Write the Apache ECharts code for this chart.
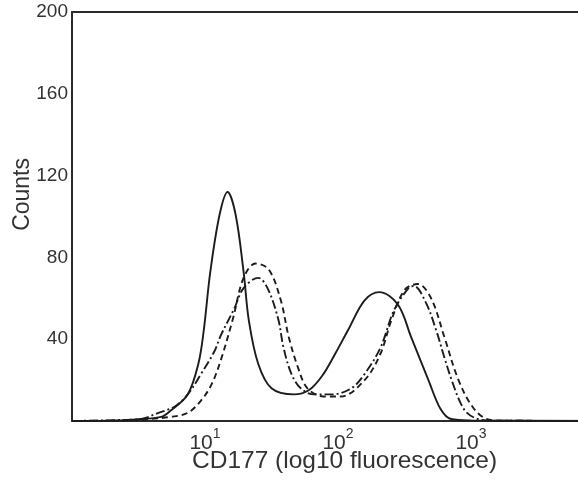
<!DOCTYPE html>
<html>
<head>
<meta charset="utf-8">
<script src="https://cdn.jsdelivr.net/npm/echarts@6/dist/echarts.min.js"></script>
<style>
  html, body { margin: 0; padding: 0; background: #fff; overflow: hidden; }
  #main { width: 620px; height: 483px; }
</style>
</head>
<body>
<div id="main"></div>
<script>
// log10 fluorescence positions and counts
var solidX = [0, 0.37, 0.52, 0.67, 0.74, 0.87, 0.95, 0.99, 1.04, 1.11, 1.17, 1.23, 1.29, 1.33, 1.40, 1.50, 1.67, 1.78, 1.88, 1.98, 2.08, 2.20, 2.31, 2.45, 2.55, 2.68, 2.77, 2.85, 3.00, 4.00]
var solidY = [0, 0.3, 1, 2, 5, 13, 28, 44, 73, 101, 112, 101, 73, 49, 28, 16, 13, 15, 22, 33, 45, 59, 63, 57, 41, 20, 6, 1, 0.3, 0]

var dashX = [0, 0.44, 0.59, 0.74, 0.87, 0.97, 1.05, 1.12, 1.21, 1.29, 1.38, 1.48, 1.57, 1.63, 1.70, 1.77, 1.89, 2.02, 2.20, 2.32, 2.40, 2.50, 2.60, 2.70, 2.80, 2.90, 3.00, 3.10, 3.23, 4.00]
var dashY = [0, 0.3, 1, 2, 4, 10, 18, 30, 50, 70, 77, 74, 59, 41, 26, 16, 12, 12, 20, 33, 49, 64, 67, 60, 41, 21, 8, 1.5, 0.2, 0]

var dashDotX = [0, 0.37, 0.52, 0.65, 0.77, 0.87, 0.97, 1.07, 1.12, 1.22, 1.29, 1.40, 1.47, 1.55, 1.59, 1.65, 1.72, 1.82, 1.95, 2.10, 2.20, 2.32, 2.42, 2.53, 2.57, 2.66, 2.74, 2.80, 2.86, 2.92, 2.97, 3.05, 3.15, 4.00]
var dashDotY = [0, 0.5, 1, 4, 7, 13, 23, 34, 42, 55, 65, 70, 65, 50, 36, 23, 16, 13, 13, 16, 23, 36, 54, 65, 66, 58, 44, 31, 19, 9, 4, 1, 0.2, 0]

var yTicks = [40, 80, 120, 160, 200]
var xTicks = [1, 2, 3]

function pairs(xs, ys) {
  return xs.map(function (x, i) { return [x, ys[i]] })
}

// the plot runs past the right edge of the window, like the cropped figure
var myChart = echarts.init(document.getElementById('main'))

var lineColor = '#1c1c1c'
var frame = { show: true, lineStyle: { color: '#2a2a2a', width: 2 } }

var option = {
  animation: false,
  grid: {
    left: 72,
    top: 12,
    right: 16,
    bottom: 62
  },
  xAxis: [
    {
      type: 'value',
      min: 0,
      max: 4,
      interval: 1,
      axisLine: frame,
      axisTick: { show: false },
      splitLine: { show: false },
      axisLabel: {
        margin: 6,
        formatter: function (v) {
          if (xTicks.indexOf(v) < 0) return ''
          return '{b|10}{s|' + v + '}'
        },
        rich: {
          b: { fontSize: 21, lineHeight: 27, verticalAlign: 'bottom', fontFamily: 'Liberation Sans', color: '#333' },
          s: { fontSize: 14, lineHeight: 14, verticalAlign: 'top', fontFamily: 'Liberation Sans', color: '#333' }
        }
      }
    },
    {
      type: 'value',
      position: 'top',
      min: 0,
      max: 4,
      axisLine: frame,
      axisTick: { show: false },
      axisLabel: { show: false },
      splitLine: { show: false }
    }
  ],
  yAxis: {
    type: 'value',
    min: 0,
    max: 200,
    interval: 40,
    axisLine: frame,
    axisTick: { show: false },
    splitLine: { show: false },
    axisLabel: {
      margin: 4,
      fontSize: 19,
      fontFamily: 'Liberation Sans',
      color: '#333',
      formatter: function (v) {
        return yTicks.indexOf(v) < 0 ? '' : String(v)
      }
    }
  },
  graphic: [
    {
      type: 'text',
      left: 11,
      top: 158,
      rotation: Math.PI / 2,
      style: {
        text: 'Counts',
        fontSize: 23,
        fontFamily: 'Liberation Sans',
        fill: '#333'
      }
    },
    {
      type: 'text',
      left: 192,
      top: 449,
      style: {
        text: 'CD177 (log10 fluorescence)',
        fontSize: 24.5,
        fontFamily: 'Liberation Sans',
        fill: '#333'
      }
    }
  ],
  series: [
    {
      type: 'line',
      data: pairs(solidX, solidY),
      smooth: 0.35,
      showSymbol: false,
      lineStyle: { color: lineColor, width: 1.9, type: 'solid' }
    },
    {
      type: 'line',
      data: pairs(dashX, dashY),
      smooth: 0.35,
      showSymbol: false,
      lineStyle: { color: lineColor, width: 1.9, type: [6, 4] }
    },
    {
      type: 'line',
      data: pairs(dashDotX, dashDotY),
      smooth: 0.35,
      showSymbol: false,
      lineStyle: { color: lineColor, width: 1.9, type: [9, 3, 2, 3] }
    }
  ]
}

myChart.setOption(option)
</script>
</body>
</html>
